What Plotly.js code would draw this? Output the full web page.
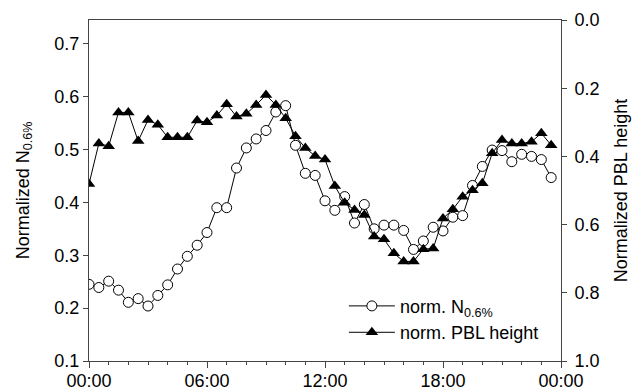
<!DOCTYPE html>
<html>
<head>
<meta charset="utf-8">
<script src="https://cdn.plot.ly/plotly-3.0.1.min.js"></script>
<style>html,body{margin:0;padding:0;background:#fff;}#chart{width:635px;height:391px;}</style>
</head>
<body>
<div id="chart"></div>
<script>
// time of day in hours (30-min resolution)
var hours = [0,0.5,1,1.5,2,2.5,3,3.5,4,4.5,5,5.5,6,6.5,7,7.5,8,8.5,9,9.5,10,10.5,11,11.5,
             12,12.5,13,13.5,14,14.5,15,15.5,16,16.5,17,17.5,18,18.5,19,19.5,20,20.5,21,21.5,22,22.5,23,23.5];
// normalized N0.6% (left axis)
var normN = [0.245,0.239,0.251,0.234,0.211,0.218,0.204,0.224,0.244,0.274,0.298,0.319,
             0.343,0.390,0.390,0.465,0.503,0.520,0.536,0.571,0.583,0.508,0.455,0.451,
             0.403,0.385,0.411,0.361,0.396,0.350,0.357,0.357,0.347,0.311,0.327,0.353,
             0.346,0.372,0.375,0.432,0.468,0.499,0.498,0.477,0.491,0.487,0.481,0.447];
// normalized PBL height (right axis, reversed)
var normPBL = [0.481,0.362,0.370,0.271,0.271,0.355,0.293,0.307,0.344,0.344,0.344,0.295,
               0.300,0.280,0.247,0.283,0.275,0.249,0.220,0.249,0.288,0.341,0.375,0.399,
               0.409,0.487,0.536,0.557,0.572,0.635,0.643,0.684,0.708,0.708,0.672,0.670,
               0.582,0.555,0.518,0.499,0.479,0.391,0.352,0.362,0.362,0.357,0.332,0.367];
var xTickVals = [0,6,12,18,24];
var xTickText = ['00:00','06:00','12:00','18:00','00:00'];

var font = {family:'Liberation Sans, Arial, sans-serif', size:18, color:'#000'};

var traces = [
  {x:hours, y:normPBL, yaxis:'y2', type:'scatter', mode:'lines+markers',
   name:'norm. PBL height',
   line:{color:'#000', width:1},
   marker:{symbol:'triangle-up', size:11, color:'#000', line:{width:0}}},
  {x:hours, y:normN, yaxis:'y', type:'scatter', mode:'lines+markers',
   name:'norm. N<sub>0.6%</sub>',
   line:{color:'#000', width:1},
   marker:{symbol:'circle', size:10, color:'#fff', line:{color:'#000', width:1}}}
];

var layout = {
  width:635, height:391,
  margin:{l:89, r:74, t:20, b:30, pad:0},
  paper_bgcolor:'#fff', plot_bgcolor:'#fff',
  font:font,
  showlegend:true,
  legend:{x:0.54, y:0.215, xanchor:'left', yanchor:'top', traceorder:'reversed',
          itemwidth:46, bgcolor:'rgba(0,0,0,0)', font:font, tracegroupgap:0},
  xaxis:{range:[0,24], tickmode:'array', tickvals:xTickVals, ticktext:xTickText,
         showgrid:false, zeroline:false, showline:true, linecolor:'#444', linewidth:1,
         mirror:true, ticks:'outside', ticklen:6, tickcolor:'#444', tickfont:font,
         ticklabelstandoff:-3,
         minor:{dtick:1, tick0:0, ticks:'outside', ticklen:3, tickcolor:'#444', showgrid:false}},
  yaxis:{range:[0.1,0.745], tickmode:'linear', tick0:0.1, dtick:0.1, tickformat:'.1f',
         showgrid:false, zeroline:false, showline:true, linecolor:'#444', linewidth:1,
         ticks:'outside', ticklen:5, tickcolor:'#444', tickfont:font,
         title:{text:'Normalized N<sub>0.6%</sub>', font:font, standoff:20}},
  yaxis2:{range:[1.0,0.0], overlaying:'y', side:'right', tickmode:'linear', tick0:0, dtick:0.2,
          tickformat:'.1f', showgrid:false, zeroline:false, showline:true, linecolor:'#444',
          linewidth:1, ticks:'outside', ticklen:5, tickcolor:'#444', tickfont:font,
          ticklabelstandoff:4,
          title:{text:'Normalized PBL height', font:font, standoff:15}}
};

Plotly.newPlot('chart', traces, layout, {displayModeBar:false, staticPlot:true});
</script>
</body>
</html>
